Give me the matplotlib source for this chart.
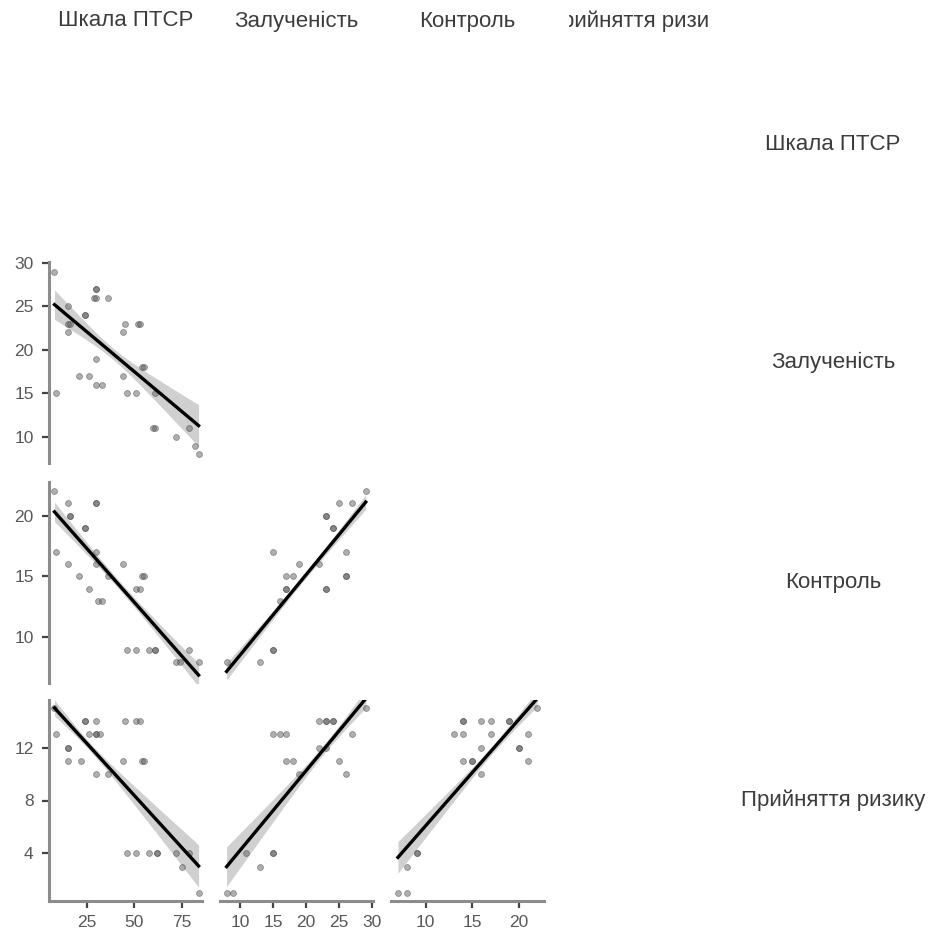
import numpy as np
import matplotlib.pyplot as plt

plt.rcParams['font.family'] = ['Liberation Sans', 'DejaVu Sans']

# Variable names
variables = ["Шкала ПТСР", "Залученість", "Контроль", "Прийняття ризику"]

# Pairwise observations for the lower-triangle panels
ptsd_a = [8, 9, 15, 15, 16, 15, 24, 24, 30, 30, 29, 30, 36, 21, 26, 30, 30, 33,
          45, 44, 52, 53, 44, 46, 51, 54, 55, 61, 60, 61, 72, 79, 82, 84]
zal_a = [29, 15, 25, 23, 23, 22, 24, 24, 27, 27, 26, 26, 26, 17, 17, 19, 16, 16,
         23, 22, 23, 23, 17, 15, 15, 18, 18, 15, 11, 11, 10, 11, 9, 8]

ptsd_b = [8, 9, 15, 16, 16, 15, 24, 24, 21, 26, 30, 30, 30, 30, 31, 33, 36, 44,
          46, 51, 51, 53, 54, 55, 58, 61, 61, 72, 74, 79, 84]
kon_b = [22, 17, 21, 20, 20, 16, 19, 19, 15, 14, 21, 21, 17, 16, 13, 13, 15, 16,
         9, 9, 14, 14, 15, 15, 9, 9, 9, 8, 8, 9, 8]

ptsd_c = [8, 9, 15, 15, 15, 22, 24, 24, 26, 30, 30, 30, 32, 30, 36, 45, 44, 51,
          53, 54, 55, 46, 51, 58, 62, 62, 72, 75, 79, 84]
ris_c = [15, 13, 12, 12, 11, 11, 14, 14, 13, 14, 13, 13, 13, 10, 10, 14, 11, 14,
         14, 11, 11, 4, 4, 4, 4, 4, 4, 3, 4, 1]

zal_d = [8, 13, 15, 15, 15, 16, 17, 17, 17, 18, 19, 22, 23, 23, 23, 23, 24, 24,
         25, 26, 26, 26, 27, 29]
kon_d = [8, 8, 9, 9, 17, 13, 14, 14, 15, 15, 16, 16, 20, 20, 14, 14, 19, 19,
         21, 17, 15, 15, 21, 22]

zal_e = [8, 9, 11, 13, 15, 15, 15, 16, 17, 17, 18, 19, 22, 23, 22, 23, 23, 24,
         24, 25, 26, 27, 29]
ris_e = [1, 1, 4, 3, 4, 4, 13, 13, 13, 11, 11, 10, 12, 12, 14, 14, 14, 14, 14,
         11, 10, 13, 15]

kon_f = [7, 8, 8, 9, 9, 13, 14, 14, 14, 14, 15, 15, 16, 17, 16, 16, 17, 19, 19,
         20, 20, 21, 21, 22]
ris_f = [1, 1, 3, 4, 4, 13, 13, 14, 14, 11, 11, 11, 14, 14, 12, 10, 13, 14, 14,
         12, 12, 13, 11, 15]

# Fitted regression lines: (x_start, y_start, x_end, y_end)
fit_a = [8, 25.2, 84, 11.3]
fit_b = [8, 20.3, 84, 6.9]
fit_c = [8, 15.0, 84, 3.05]
fit_d = [8, 7.2, 29, 21.1]
fit_e = [8, 3.0, 29, 15.7]
fit_f = [7, 3.7, 22, 15.7]

# Confidence band half-widths: (left end, narrowest, right end)
band_a = [1.7, 0.65, 2.4]
band_b = [0.8, 0.35, 0.95]
band_c = [0.6, 0.3, 1.6]
band_d = [0.7, 0.25, 0.6]
band_e = [1.5, 0.35, 0.7]
band_f = [1.2, 0.3, 0.6]

# Axis settings per variable
limits = [(5.1, 85.8), (7.0, 30.1), (6.25, 22.75), (0.4, 15.6)]
ticks = [[25, 50, 75], [10, 15, 20, 25, 30], [10, 15, 20], [4, 8, 12]]

panels = {
    (1, 0): (ptsd_a, zal_a, fit_a, band_a),
    (2, 0): (ptsd_b, kon_b, fit_b, band_b),
    (3, 0): (ptsd_c, ris_c, fit_c, band_c),
    (2, 1): (zal_d, kon_d, fit_d, band_d),
    (3, 1): (zal_e, ris_e, fit_e, band_e),
    (3, 2): (kon_f, ris_f, fit_f, band_f),
}


def band_halfwidth(xs, x0, x1, band):
    """Hyperbolic confidence-band half-width through the three given widths."""
    hl, hm, hr = band
    a = np.sqrt(max(hl ** 2 - hm ** 2, 1e-9))
    b = np.sqrt(max(hr ** 2 - hm ** 2, 1e-9))
    xc = x0 + (x1 - x0) * a / (a + b)
    k = (hl ** 2 - hm ** 2) / (xc - x0) ** 2
    return np.sqrt(hm ** 2 + k * (xs - xc) ** 2)


W, H = 943, 944
fig = plt.figure(figsize=(W / 100, H / 100), dpi=100)


def frac(left, top, w, h):
    return [left / W, 1 - (top + h) / H, w / W, h / H]


col_left = [49, 220, 391, 562]
col_w = 153
row_top = [44, 262, 482, 700]
row_h = 201

spine_col = "#8c8c8c"
tick_col = "#444444"
label_col = "#585858"
text_col = "#3c3c3c"

for (r, c), (xv, yv, fit, band) in panels.items():
    ax = fig.add_axes(frac(col_left[c], row_top[r], col_w, row_h))
    x0, y0, x1, y1 = fit
    xs = np.linspace(x0, x1, 100)
    yh = y0 + (y1 - y0) * (xs - x0) / (x1 - x0)
    hw = band_halfwidth(xs, x0, x1, band)
    ax.fill_between(xs, yh - hw, yh + hw, color="#cbcbcb", alpha=0.9,
                    linewidth=0, zorder=1)
    ax.scatter(xv, yv, s=18, facecolor=(0.38, 0.38, 0.38, 0.5),
               edgecolor=(0.2, 0.2, 0.2, 0.45), linewidth=0.6, zorder=2)
    ax.plot(xs, yh, color="black", lw=2.4, zorder=3)

    ax.set_xlim(*limits[c])
    ax.set_ylim(*limits[r])
    ax.patch.set_visible(False)
    for sp in ax.spines.values():
        sp.set_visible(False)

    if c == 0:
        ax.spines["left"].set_visible(True)
        ax.spines["left"].set_color(spine_col)
        ax.spines["left"].set_linewidth(2.2)
        ax.set_yticks(ticks[r])
        ax.tick_params(axis="y", length=5, width=1.6, color=tick_col,
                       labelsize=12.5, labelcolor=label_col, pad=6)
    else:
        ax.set_yticks([])
    if r == 3:
        ax.spines["bottom"].set_visible(True)
        ax.spines["bottom"].set_color(spine_col)
        ax.spines["bottom"].set_linewidth(2.2)
        ax.set_xticks(ticks[c])
        ax.tick_params(axis="x", length=5, width=1.6, color=tick_col,
                       labelsize=12.5, labelcolor=label_col, pad=5)
    else:
        ax.set_xticks([])

# Column headers, each clipped to its own header cell
head_cells = [(43, 165), (214, 165), (385, 165), (569, 139)]
for c, name in enumerate(variables):
    left, width = head_cells[c]
    hx = fig.add_axes(frac(left, 0, width, 42))
    hx.axis("off")
    cx = (col_left[c] + col_w / 2 - left) / width
    hx.text(cx, 0.5, name, transform=hx.transAxes, ha="center", va="center",
            fontsize=16, color=text_col, clip_on=True)

# Row labels on the right
for r, name in enumerate(variables):
    fig.text(833 / W, 1 - (row_top[r] + row_h / 2) / H, name, ha="center",
             va="center", fontsize=16, color=text_col)

fig.savefig("out.png", dpi=100, facecolor="white")
